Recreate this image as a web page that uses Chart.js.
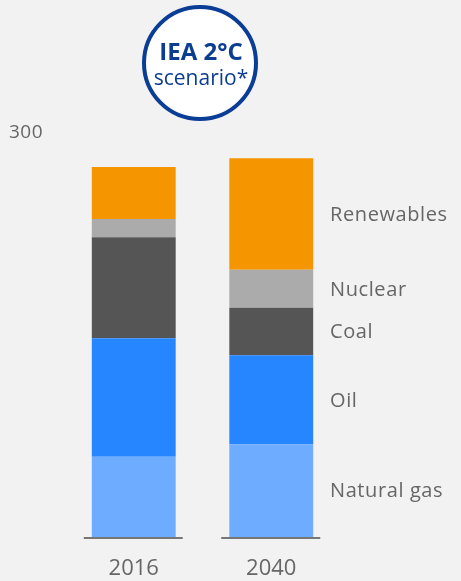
<!DOCTYPE html>
<html>
<head>
<meta charset="utf-8">
<script src="https://cdn.jsdelivr.net/npm/chart.js@4"></script>
<style>
  html, body { margin: 0; padding: 0; background: #f2f2f2; }
  #wrap { width: 461px; height: 581px; position: relative; }
</style>
</head>
<body>
<div id="wrap"><canvas id="energy"></canvas></div>
<script>
const years = ['2016', '2040'];
const fuels = ['Natural gas', 'Oil', 'Coal', 'Nuclear', 'Renewables'];
const gas = [59.6, 68.8];
const oil = [87.9, 66.1];
const coal = [75.0, 35.3];
const nuclear = [13.6, 28.2];
const renewables = [38.6, 82.9];
const yTicks = [300];

const colors = ['#6eacff', '#2686ff', '#555555', '#ababab', '#f59600'];
const series = [gas, oil, coal, nuclear, renewables];

const FONT = '"Open Sans", sans-serif';

// side labels, baseline stubs, 300 tick and the IEA badge
const extras = {
  id: 'extras',
  afterDraw(chart) {
    const ctx = chart.ctx;
    const x = chart.scales.x;
    const y = chart.scales.y;

    ctx.save();
    ctx.strokeStyle = '#777777';
    ctx.lineWidth = 2;
    years.forEach((yr, i) => {
      const cx = x.getPixelForValue(i);
      ctx.beginPath();
      ctx.moveTo(cx - 50, y.getPixelForValue(0) + 1);
      ctx.lineTo(cx + 49, y.getPixelForValue(0) + 1);
      ctx.stroke();
    });

    ctx.fillStyle = '#666666';
    ctx.font = '19px ' + FONT;
    ctx.textBaseline = 'middle';
    ctx.textAlign = 'left';
    ctx.letterSpacing = '0.5px';
    yTicks.forEach(t => {
      ctx.fillText(String(t), 9, y.getPixelForValue(t));
    });

    // labels next to the 2040 bar
    ctx.font = '20px ' + FONT;
    ctx.letterSpacing = '0.6px';
    let base = 0;
    fuels.forEach((f, k) => {
      const v = series[k][1];
      const mid = y.getPixelForValue(base + v / 2);
      ctx.fillText(f, 330, mid + 1);
      base += v;
    });
    ctx.letterSpacing = '0px';

    // badge
    ctx.beginPath();
    ctx.arc(200, 63, 56, 0, Math.PI * 2);
    ctx.fillStyle = '#ffffff';
    ctx.fill();
    ctx.lineWidth = 4;
    ctx.strokeStyle = '#0a3d96';
    ctx.stroke();
    ctx.fillStyle = '#0b3d91';
    ctx.textAlign = 'center';
    ctx.font = 'bold 24px ' + FONT;
    ctx.fillText('IEA 2°C', 201, 53);
    ctx.font = '21px ' + FONT;
    ctx.fillText('scenario*', 201, 79);
    ctx.restore();
  }
};

new Chart(document.getElementById('energy'), {
  type: 'bar',
  data: {
    labels: years,
    datasets: fuels.map((f, k) => ({
      label: f,
      data: series[k],
      backgroundColor: colors[k],
      borderWidth: 0,
      barPercentage: 1,
      categoryPercentage: 0.61,
    })),
  },
  options: {
    responsive: true,
    maintainAspectRatio: false,
    animation: false,
    layout: { padding: { left: 65, right: 121, top: 133, bottom: 4 } },
    plugins: { legend: { display: false }, tooltip: { enabled: false } },
    scales: {
      x: {
        stacked: true,
        grid: { display: false },
        border: { display: false },
        ticks: { color: '#666666', font: { size: 22, family: FONT }, padding: 11 },
        afterFit(axis) {
          axis.height = 40;
        },
      },
      y: {
        stacked: true,
        display: false,
        min: 0,
        max: 300,
      },
    },
  },
  plugins: [extras],
});
</script>
</body>
</html>
